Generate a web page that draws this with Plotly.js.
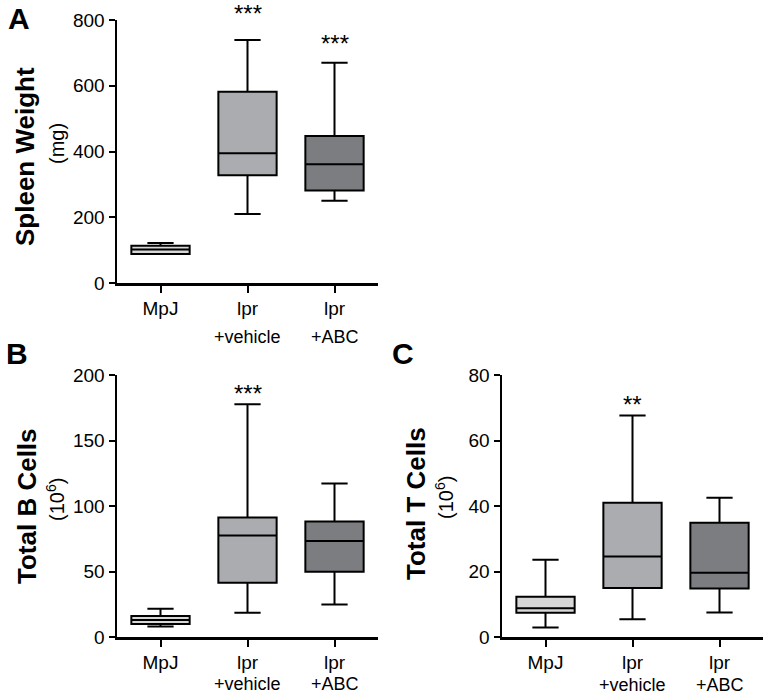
<!DOCTYPE html>
<html>
<head>
<meta charset="utf-8">
<script src="https://cdn.plot.ly/plotly-3.0.1.min.js"></script>
<style>html,body{margin:0;padding:0;background:#fff;}#chart{width:770px;height:694px;}</style>
</head>
<body>
<div id="chart"></div>
<script>
// ---- data ----
const categories = ['MpJ', 'lpr+vehicle', 'lpr+ABC'];
const tickLine1 = ['MpJ', 'lpr', 'lpr'];
const tickLine2 = ['', '+vehicle', '+ABC'];
const groupColors = ['#d7d7d7', '#abacaf', '#7c7d80'];

// Panel A: Spleen weight (mg)
const spleenLow    = [88, 210, 250];
const spleenQ1     = [88, 328, 281];
const spleenMedian = [102, 395, 361];
const spleenQ3     = [113, 582, 447];
const spleenHigh   = [122, 739, 670];
const spleenStars  = ['', '***', '***'];
const spleenStarY  = [0, 820, 730];

// Panel B: Total B cells (10^6)
const bLow    = [8.1, 18.6, 24.9];
const bQ1     = [9.9, 41.4, 49.8];
const bMedian = [13.0, 77.5, 73.2];
const bQ3     = [16.0, 91.2, 88.2];
const bHigh   = [21.6, 177.6, 117.2];
const bStars  = ['', '***', ''];
const bStarY  = [0, 186, 0];

// Panel C: Total T cells (10^6)
const tLow    = [2.9, 5.4, 7.5];
const tQ1     = [7.4, 15.0, 14.8];
const tMedian = [8.8, 24.6, 19.6];
const tQ3     = [12.3, 41.0, 34.9];
const tHigh   = [23.6, 67.6, 42.5];
const tStars  = ['', '**', ''];
const tStarY  = [0, 71, 0];

const FONT = 'Liberation Sans, Arial, sans-serif';
const W = 770, H = 694;

function boxTraces(xa, ya, low, q1, med, q3, high) {
  return categories.map((c, i) => ({
    type: 'box',
    xaxis: xa, yaxis: ya,
    x: [c],
    lowerfence: [low[i]], q1: [q1[i]], median: [med[i]], q3: [q3[i]], upperfence: [high[i]],
    boxpoints: false,
    width: 0.67,
    whiskerwidth: 0.45,
    fillcolor: groupColors[i],
    line: {color: '#000', width: 2},
    showlegend: false,
    hoverinfo: 'skip'
  }));
}

const traces = [].concat(
  boxTraces('x', 'y', spleenLow, spleenQ1, spleenMedian, spleenQ3, spleenHigh),
  boxTraces('x2', 'y2', bLow, bQ1, bMedian, bQ3, bHigh),
  boxTraces('x3', 'y3', tLow, tQ1, tMedian, tQ3, tHigh)
);

function px2dom(a, b) { return [a / W, b / W]; }
function py2dom(top, bottom) { return [1 - bottom / H, 1 - top / H]; }

function xaxisDef(dom, anchor) {
  return {
    domain: dom, anchor: anchor, type: 'category',
    categoryorder: 'array', categoryarray: categories,
    range: [-0.5, 2.5],
    tickvals: categories, ticktext: tickLine1,
    showline: true, linecolor: '#000', linewidth: 2.5,
    ticks: 'outside', ticklen: 7, tickwidth: 2, tickcolor: '#000',
    tickfont: {family: FONT, size: 19, color: '#000'},
    showgrid: false, zeroline: false, fixedrange: true
  };
}
function yaxisDef(dom, anchor, max, dtick) {
  return {
    domain: dom, anchor: anchor,
    range: [0, max], dtick: dtick, tick0: 0,
    showline: true, linecolor: '#000', linewidth: 2.5,
    ticks: 'outside', ticklen: 6, tickwidth: 2, tickcolor: '#000',
    tickfont: {family: FONT, size: 19, color: '#000'},
    showgrid: false, zeroline: false, fixedrange: true
  };
}

const annotations = [];
function addStars(xa, ya, stars, ys, max) {
  stars.forEach((s, i) => {
    if (!s) return;
    annotations.push({xref: xa, yref: ya + ' domain', x: categories[i], y: ys[i] / max, text: s,
      showarrow: false, xanchor: 'center', yanchor: 'middle',
      font: {family: FONT, size: 24, color: '#000'}});
  });
}
function addLine2(xa, ya, shift) {
  tickLine2.forEach((s, i) => {
    if (!s) return;
    annotations.push({xref: xa, yref: ya + ' domain', x: categories[i], y: 0, text: s,
      showarrow: false, xanchor: 'center', yanchor: 'top', yshift: shift,
      font: {family: FONT, size: 18, color: '#000'}});
  });
}
function addText(x, y, text, size, angle) {
  annotations.push({xref: 'paper', yref: 'paper', x: x / W, y: 1 - y / H, text: text,
    showarrow: false, xanchor: 'center', yanchor: 'middle', textangle: angle || 0,
    font: {family: FONT, size: size, color: '#000'}});
}

addStars('x', 'y', spleenStars, spleenStarY, 800);
addStars('x2', 'y2', bStars, bStarY, 200);
addStars('x3', 'y3', tStars, tStarY, 80);
addLine2('x', 'y', -42);
addLine2('x2', 'y2', -35);
addLine2('x3', 'y3', -36);

// axis titles
addText(25, 157, '<b>Spleen Weight</b>', 26, -90);
addText(57, 144, '(mg)', 20, -90);
addText(27, 506, '<b>Total B Cells</b>', 26, -90);
addText(55, 500, '(10<sup>6</sup>)', 20, -90);
addText(416, 503, '<b>Total T Cells</b>', 26, -90);
addText(444, 498, '(10<sup>6</sup>)', 20, -90);

// panel letters
addText(19, 18, '<b>A</b>', 30, 0);
addText(17, 354, '<b>B</b>', 30, 0);
addText(403, 354, '<b>C</b>', 30, 0);

const layout = {
  width: W, height: H,
  margin: {l: 0, r: 0, t: 0, b: 0},
  paper_bgcolor: '#fff', plot_bgcolor: 'rgba(0,0,0,0)',
  font: {family: FONT, color: '#000'},
  boxmode: 'overlay',
  showlegend: false,
  xaxis: xaxisDef(px2dom(117, 378), 'y'),
  yaxis: yaxisDef(py2dom(20, 283), 'x', 800, 200),
  xaxis2: xaxisDef(px2dom(117, 378), 'y2'),
  yaxis2: yaxisDef(py2dom(375, 637), 'x2', 200, 50),
  xaxis3: xaxisDef(px2dom(502, 763), 'y3'),
  yaxis3: yaxisDef(py2dom(375, 637), 'x3', 80, 20),
  annotations: annotations
};

Plotly.newPlot('chart', traces, layout, {displayModeBar: false, staticPlot: true});
</script>
</body>
</html>
